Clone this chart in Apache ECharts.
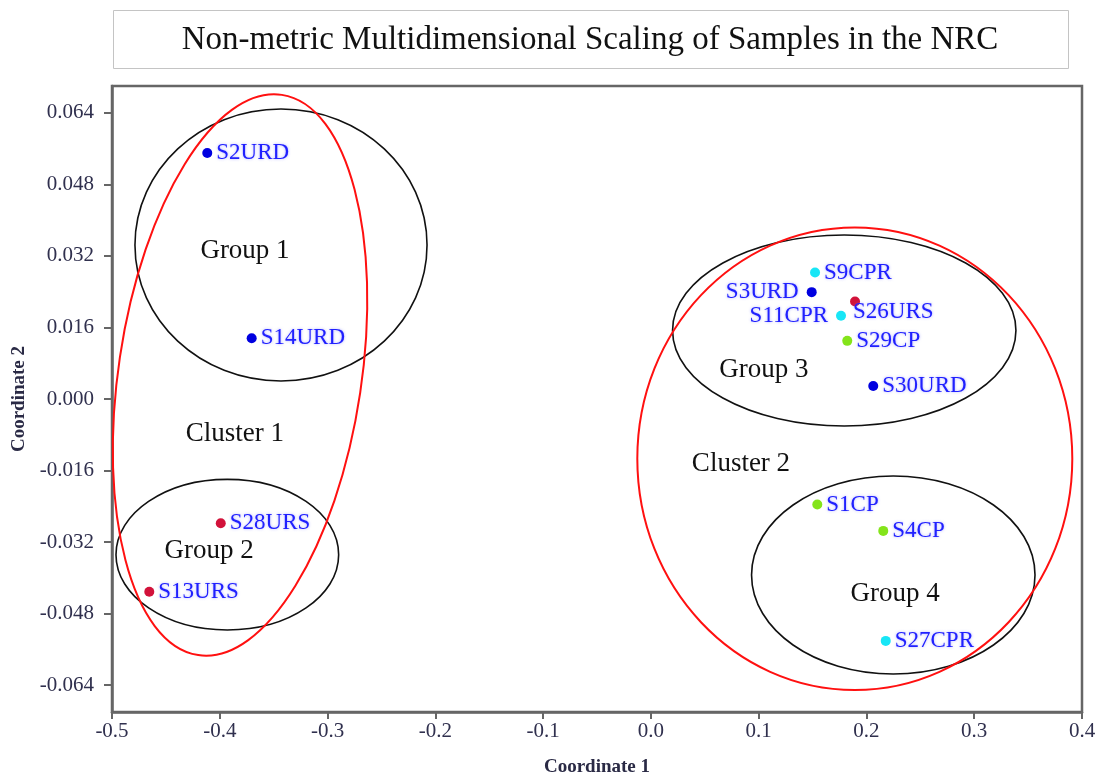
<!DOCTYPE html>
<html>
<head>
<meta charset="utf-8">
<title>NMDS of Samples in the NRC</title>
<script src="https://cdn.jsdelivr.net/npm/echarts@6/dist/echarts.min.js"></script>
<style>
  html, body { margin: 0; padding: 0; background: #fff; }
  #chart { width: 1099px; height: 774px; }
</style>
</head>
<body>
<div id="chart"></div>
<script>
// ---- Sample coordinates (Coordinate 1, Coordinate 2), grouped by sample type ----
const urdNames = ['S2URD', 'S14URD', 'S3URD', 'S30URD'];
const urdX = [-0.4116, -0.3704, 0.1492, 0.2063];
const urdY = [0.0550, 0.0136, 0.0239, 0.0029];

const ursNames = ['S28URS', 'S13URS', 'S26URS'];
const ursX = [-0.3991, -0.4654, 0.1894];
const ursY = [-0.0278, -0.0431, 0.0218];

const cprNames = ['S9CPR', 'S11CPR', 'S27CPR'];
const cprX = [0.1523, 0.1764, 0.2179];
const cprY = [0.0283, 0.0186, -0.0541];

const cpNames = ['S29CP', 'S1CP', 'S4CP'];
const cpX = [0.1822, 0.1544, 0.2156];
const cpY = [0.0130, -0.0236, -0.0295];

// ---- Group / cluster outlines: centre, semi-axes (data units), tilt in degrees ----
const groupNames = ['Group 1', 'Group 2', 'Group 3', 'Group 4'];
const groupCX = [-0.3432, -0.3930, 0.1794, 0.2249];
const groupCY = [0.03444, -0.03482, 0.01532, -0.03936];
const groupRX = [0.1355, 0.1033, 0.1593, 0.1315];
const groupRY = [0.03042, 0.01684, 0.02136, 0.02214];
const groupLabelX = [-0.3766, -0.4099, 0.1049, 0.2265];
const groupLabelY = [0.0331, -0.0340, 0.00649, -0.04361];

const clusterNames = ['Cluster 1', 'Cluster 2'];
const clusterCX = [-0.3812, 0.1892];
const clusterCY = [0.00537, -0.01335];
const clusterRX = [0.1127, 0.2018];
const clusterRY = [0.06334, 0.05173];
const clusterTilt = [-8.5, 0];
const clusterLabelX = [-0.3859, 0.0836];
const clusterLabelY = [-0.00783, -0.01454];

// ---- Axis ticks ----
const xTicks = [-0.5, -0.4, -0.3, -0.2, -0.1, 0.0, 0.1, 0.2, 0.3, 0.4];
const yTicks = [-0.064, -0.048, -0.032, -0.016, 0.0, 0.016, 0.032, 0.048, 0.064];

// ---- Styling ----
const SERIF = '"Liberation Serif", "Times New Roman", serif';
const typeColors = { URD: '#0000e0', URS: '#d2123a', CPR: '#18e6f6', CP: '#84e41a' };
// label placement for points whose labels sit off to the left / below
const labelPlacement = { S3URD: 'left', S11CPR: 'left', S26URS: 'under' };

function pointData(names, xs, ys) {
  return names.map((n, i) => {
    const item = { name: n, value: [xs[i], ys[i]] };
    const p = labelPlacement[n];
    if (p === 'left') {
      item.label = { position: 'left', distance: 8 };
    } else if (p === 'under') {
      item.label = { position: [3, 15], align: 'left', verticalAlign: 'middle' };
    }
    return item;
  });
}

function pointSeries(type, names, xs, ys) {
  return {
    name: type,
    type: 'scatter',
    symbol: 'circle',
    symbolSize: 10,
    z: 5,
    itemStyle: { color: typeColors[type], opacity: 1 },
    data: pointData(names, xs, ys),
    label: {
      show: true,
      position: 'right',
      distance: 4,
      formatter: '{b}',
      color: '#2020ff',
      fontFamily: SERIF,
      fontSize: 23,
      textShadowColor: 'rgba(120,120,255,0.6)',
      textShadowBlur: 3
    }
  };
}

function ellipseSeries(name, cx, cy, rx, ry, tilt, stroke, width) {
  return {
    name: name,
    type: 'custom',
    coordinateSystem: 'cartesian2d',
    silent: true,
    z: 2,
    encode: { x: 0, y: 1 },
    data: cx.map((v, i) => [v, cy[i], rx[i], ry[i], tilt ? tilt[i] : 0]),
    renderItem: function (params, api) {
      const c = api.coord([api.value(0), api.value(1)]);
      const s = api.size([api.value(2), api.value(3)]);
      return {
        type: 'ellipse',
        x: c[0],
        y: c[1],
        rotation: api.value(4) * Math.PI / 180,
        shape: { cx: 0, cy: 0, rx: s[0], ry: s[1] },
        style: { fill: 'none', stroke: stroke, lineWidth: width }
      };
    }
  };
}

function textSeries(name, labels, xs, ys) {
  return {
    name: name,
    type: 'custom',
    coordinateSystem: 'cartesian2d',
    silent: true,
    z: 4,
    encode: { x: 0, y: 1 },
    data: xs.map((v, i) => [v, ys[i]]),
    renderItem: function (params, api) {
      const c = api.coord([api.value(0), api.value(1)]);
      return {
        type: 'text',
        x: c[0],
        y: c[1],
        style: {
          text: labels[params.dataIndex],
          fill: '#111',
          font: '27px ' + SERIF,
          align: 'center',
          verticalAlign: 'middle'
        }
      };
    }
  };
}

const chart = echarts.init(document.getElementById('chart'), null, { renderer: 'canvas' });

chart.setOption({
  animation: false,
  backgroundColor: '#fff',
  graphic: [
    {
      type: 'rect',
      shape: { x: 113.5, y: 10.5, width: 955, height: 58 },
      style: { fill: '#fff', stroke: '#c4c4c4', lineWidth: 1 }
    },
    {
      type: 'text',
      x: 590,
      y: 40,
      style: {
        text: 'Non-metric Multidimensional Scaling of Samples in the NRC',
        fill: '#111',
        font: '33px ' + SERIF,
        align: 'center',
        verticalAlign: 'middle'
      }
    }
  ],
  grid: {
    left: 112, right: 17, top: 86, bottom: 62,
    outerBoundsMode: 'none',
    containLabel: false,
    show: true,
    borderColor: '#666',
    borderWidth: 2.5,
    backgroundColor: 'transparent'
  },
  xAxis: {
    type: 'value',
    min: -0.5,
    max: 0.4,
    interval: 0.1,
    name: 'Coordinate 1',
    nameLocation: 'middle',
    nameGap: 46,
    nameTextStyle: { fontFamily: SERIF, fontSize: 19, fontWeight: 'bold', color: '#2a2a45' },
    axisLine: { onZero: false, lineStyle: { color: '#666', width: 2.5 } },
    axisTick: { show: true, inside: false, length: 7, lineStyle: { color: '#666', width: 2 } },
    axisLabel: {
      margin: 9,
      fontFamily: SERIF,
      fontSize: 21,
      color: '#30304e',
      customValues: xTicks,
      formatter: v => v.toFixed(1)
    },
    splitLine: { show: false }
  },
  yAxis: {
    type: 'value',
    min: -0.07,
    max: 0.07,
    name: 'Coordinate 2',
    nameLocation: 'middle',
    nameRotate: 90,
    nameGap: 83,
    nameTextStyle: { fontFamily: SERIF, fontSize: 19, fontWeight: 'bold', color: '#2a2a45' },
    axisLine: { onZero: false, lineStyle: { color: '#666', width: 2.5 } },
    axisTick: { show: true, inside: false, length: 8, lineStyle: { color: '#666', width: 2 }, customValues: yTicks },
    axisLabel: {
      margin: 18,
      fontFamily: SERIF,
      fontSize: 21,
      color: '#30304e',
      customValues: yTicks,
      formatter: v => v.toFixed(3)
    },
    splitLine: { show: false }
  },
  series: [
    ellipseSeries('groups', groupCX, groupCY, groupRX, groupRY, null, '#111', 1.6),
    ellipseSeries('clusters', clusterCX, clusterCY, clusterRX, clusterRY, clusterTilt, '#ff1010', 2),
    textSeries('groupLabels', groupNames, groupLabelX, groupLabelY),
    textSeries('clusterLabels', clusterNames, clusterLabelX, clusterLabelY),
    pointSeries('URD', urdNames, urdX, urdY),
    pointSeries('URS', ursNames, ursX, ursY),
    pointSeries('CPR', cprNames, cprX, cprY),
    pointSeries('CP', cpNames, cpX, cpY)
  ]
});
</script>
</body>
</html>
